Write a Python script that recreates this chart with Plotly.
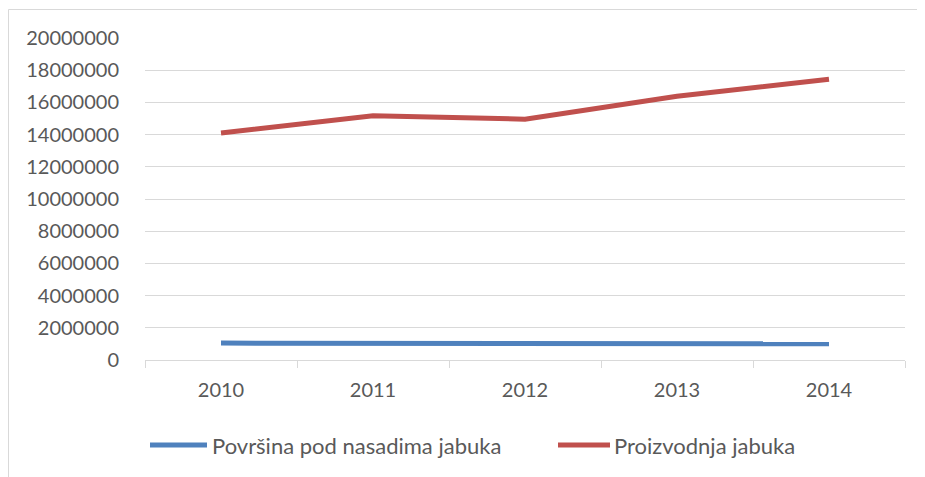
import plotly.graph_objects as go

years = ["2010", "2011", "2012", "2013", "2014"]
povrsina = [1050000, 1050000, 1050000, 1060000, 1010000]
proizvodnja = [14100000, 15170000, 14960000, 16380000, 17440000]
y_ticks = [0, 2000000, 4000000, 6000000, 8000000, 10000000, 12000000,
           14000000, 16000000, 18000000, 20000000]
series_names = ["Površina pod nasadima jabuka", "Proizvodnja jabuka"]
series_colors = ["#4F81BD", "#C0504D"]

OFF = 8  # page body margin offset
W, H = 925 - OFF, 477 - OFF
L, T = 145 - OFF, 38 - OFF
R = W - (905 - OFF)
B = H - (360 - OFF)
pw, ph = W - L - R, H - T - B

FONT = "Lato"
GREY = "#595959"
GRID = "#D9D9D9"

fig = go.Figure()
for name, vals, col in zip(series_names, [povrsina, proizvodnja], series_colors):
    fig.add_trace(go.Scatter(x=years, y=vals, mode="lines", name=name,
                             line=dict(color=col, width=5), showlegend=False))

def px_x(p):
    return (p - OFF - L) / pw

def px_y(p):
    return (H - B - (p - OFF)) / ph

legend_items = [(150, 207, 210), (558, 610, 612)]
shapes = [
    dict(type="line", xref="paper", yref="paper", x0=px_x(8.5), x1=px_x(930),
         y0=px_y(9.5), y1=px_y(9.5), line=dict(color=GRID, width=1)),
    dict(type="line", xref="paper", yref="paper", x0=px_x(8.5), x1=px_x(8.5),
         y0=px_y(9.5), y1=px_y(480), line=dict(color=GRID, width=1)),
]
annotations = []
for (lx0, lx1, tx), name, col in zip(legend_items, series_names, series_colors):
    shapes.append(dict(type="line", xref="paper", yref="paper",
                       x0=px_x(lx0), x1=px_x(lx1), y0=px_y(445), y1=px_y(445),
                       line=dict(color=col, width=5)))
    annotations.append(dict(text=name, xref="paper", yref="paper",
                            x=px_x(tx), y=px_y(445), xanchor="left", yanchor="middle",
                            showarrow=False,
                            font=dict(family=FONT, size=22, color=GREY)))

fig.update_layout(
    width=W, height=H,
    margin=dict(l=L, r=R, t=T, b=B, autoexpand=False),
    paper_bgcolor="white", plot_bgcolor="white",
    font=dict(family=FONT, size=20, color=GREY),
    showlegend=False,
    xaxis=dict(type="category", range=[-0.5, 4.5], tickson="boundaries",
               ticks="outside", ticklen=7,
               tickcolor=GRID, tickwidth=1, showline=True, linecolor=GRID, linewidth=1,
               showgrid=False, tickfont=dict(family=FONT, size=20, color=GREY),
               ticklabelstandoff=12, fixedrange=True, automargin=False),
    yaxis=dict(range=[0, 20000000], tickvals=y_ticks, tickformat="d",
               showgrid=True, gridcolor=GRID, gridwidth=1, zeroline=False,
               showline=False, ticks="", tickfont=dict(family=FONT, size=20, color=GREY),
               ticklabelstandoff=25, fixedrange=True, automargin=False),
    shapes=shapes,
    annotations=annotations,
)

fig.write_html("out.html")
